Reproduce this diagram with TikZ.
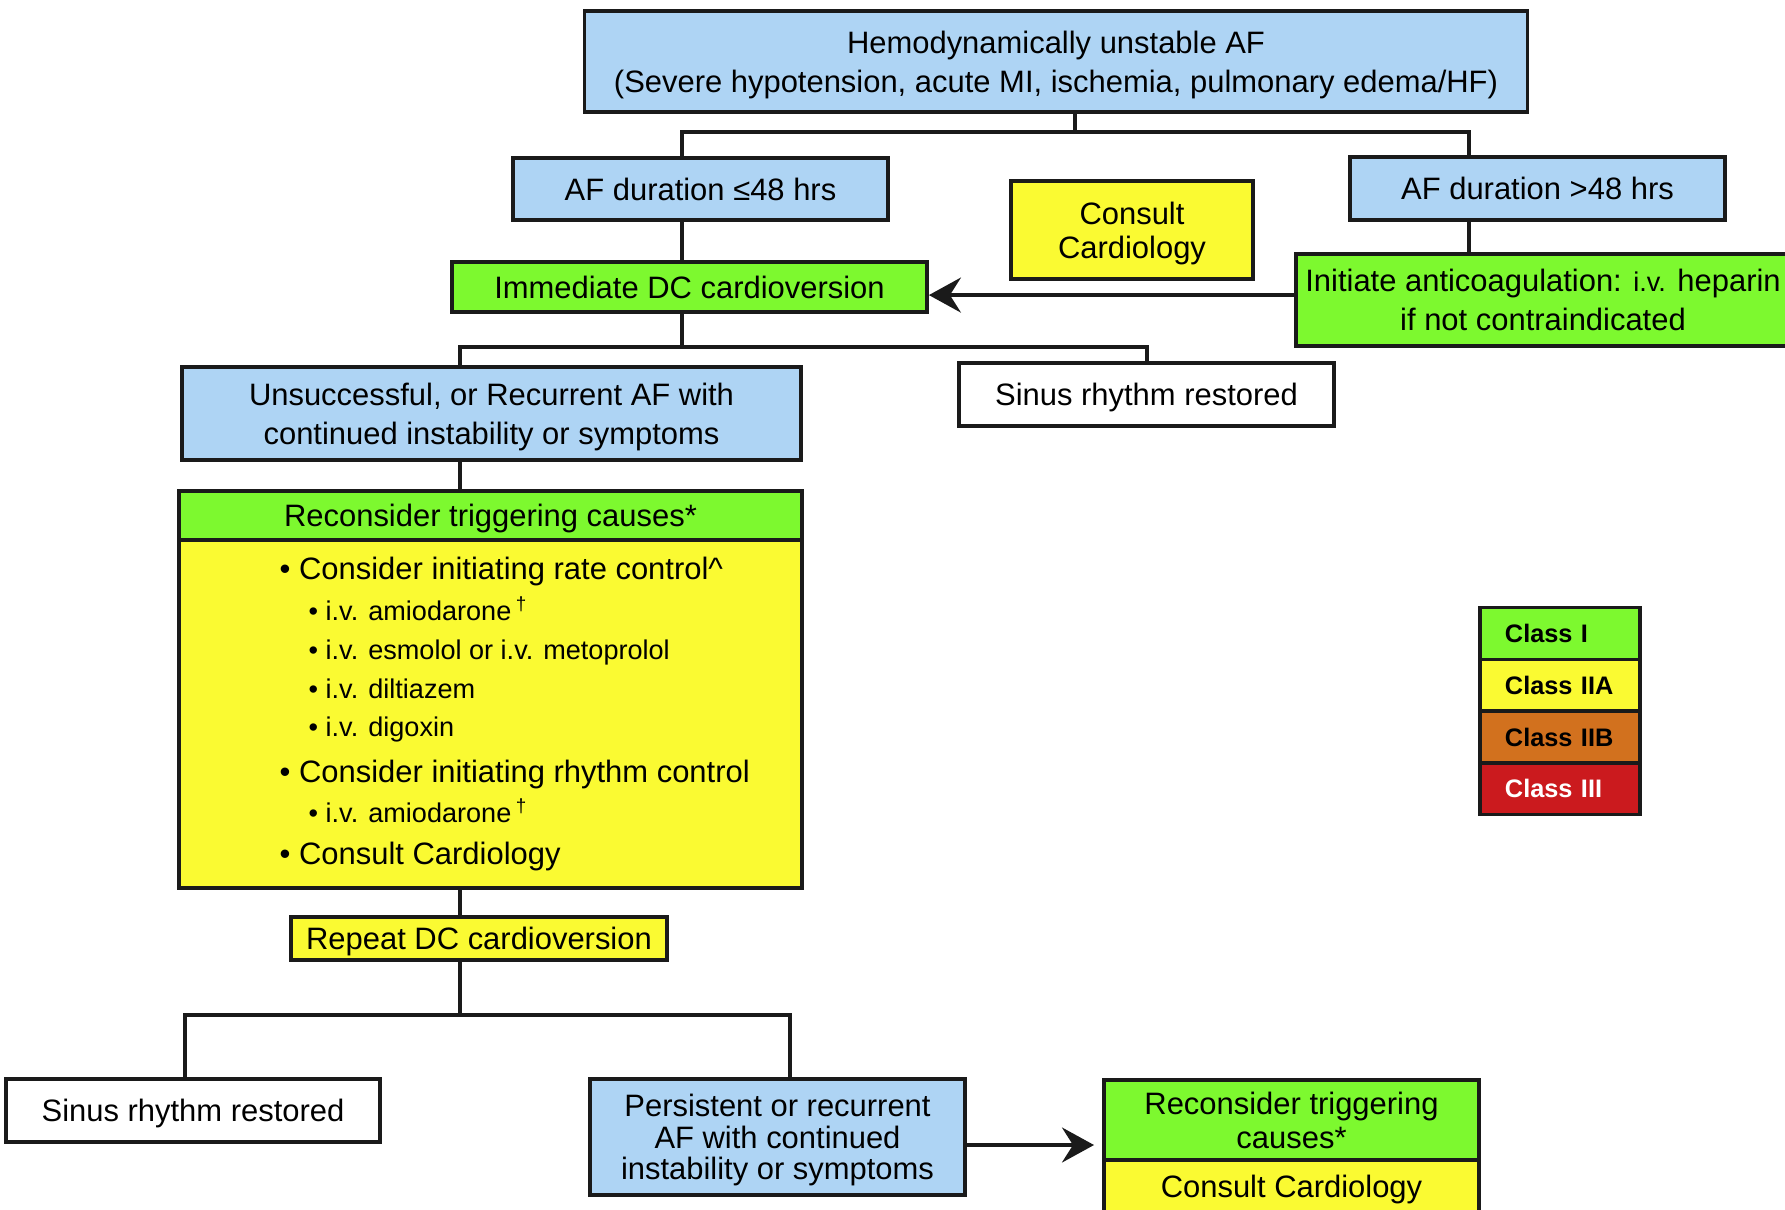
\documentclass[tikz,border=0pt]{standalone}
\usepackage{fontspec}
\setmainfont{Liberation Sans}
\usetikzlibrary{arrows.meta,positioning}
\definecolor{ink}{HTML}{1A1A1A}
\definecolor{sky}{HTML}{AED4F4}
\definecolor{good}{HTML}{7DF92F}
\definecolor{warn}{HTML}{FAFA32}
\definecolor{amber}{HTML}{D2711E}
\definecolor{alarm}{HTML}{CB1A1E}
\newcommand{\fsbig}{\fontsize{8.8}{11}\selectfont}
\newcommand{\fssmall}{\fontsize{7.7}{9}\selectfont}
\newcommand{\fsleg}{\fontsize{7.2}{8}\selectfont\bfseries}
\tikzset{card/.style={draw=ink,line width=1pt,inner sep=1pt,text depth=0pt,align=center,font=\fsbig},
  link/.style={draw=ink,line width=1pt},
  mainitem/.style={anchor=mid west,inner sep=0pt,font=\fsbig},
  subitem/.style={anchor=mid west,inner sep=0pt,font=\fssmall},
  legrow/.style={draw=ink,line width=1pt,minimum width=1.6cm,minimum height=0.5175cm,
    text width=1.1cm,inner xsep=0.25cm,inner ysep=0pt,align=left,font=\fsleg}}

\begin{document}
\begin{tikzpicture}[x=0.01cm,y=-0.01cm,>={Stealth[length=3.2mm,width=3.5mm,inset=1.1mm]}]
    \useasboundingbox (0,0) rectangle (1785,1209);
    % boxes
    \node[card,fill=sky,minimum width=9.42cm,minimum height=1.01cm] (unstable) at (1056,61.5)
      {Hemodynamically unstable AF\\(Severe hypotension, acute MI, ischemia, pulmonary edema/HF)};
    \node[card,fill=sky,minimum width=3.75cm,minimum height=0.62cm] (short) at (700.5,189) {AF duration ≤48 hrs};
    \node[card,fill=warn,minimum width=2.42cm,minimum height=0.98cm,font=\fontsize{8.8}{9.7}\selectfont] (consult) at (1132,230) {Consult\\Cardiology};
    \node[card,fill=sky,minimum width=3.75cm,minimum height=0.63cm] (long) at (1537.5,188.5) {AF duration >48 hrs};
    \node[card,fill=good,minimum width=4.94cm,minimum height=0.92cm] (hep) at (1543,300)
      {Initiate anticoagulation: {\fssmall i.v.} heparin\\if not contraindicated};
    \node[card,fill=good,minimum width=4.75cm,minimum height=0.50cm] (imm) at (689.5,287) {Immediate DC cardioversion};
    \node[card,fill=white,minimum width=3.75cm,minimum height=0.63cm] (sinus1) at (1146.5,394.5) {Sinus rhythm restored};
    \node[card,fill=sky,minimum width=6.19cm,minimum height=0.93cm] (unsucc) at (491.5,413.5)
      {Unsuccessful, or Recurrent AF with\\continued instability or symptoms};
    \node[card,fill=good,minimum width=6.23cm,minimum height=0.49cm] (rhead) at (490.5,515.5) {Reconsider triggering causes*};
    \node[card,fill=warn,minimum width=6.23cm,minimum height=3.48cm] (rbody) at (490.5,714) {};
    \node[card,fill=warn,minimum width=3.76cm,minimum height=0.43cm] (repeat) at (479,938.5) {Repeat DC cardioversion};
    \node[card,fill=white,minimum width=3.74cm,minimum height=0.63cm] (sinus2) at (193,1110.5) {Sinus rhythm restored};
    \node[card,fill=sky,minimum width=3.75cm,minimum height=1.16cm,font=\fontsize{8.8}{9}\selectfont] (persist) at (777.5,1137)
      {Persistent or recurrent\\AF with continued\\instability or symptoms};
    \node[card,fill=good,minimum width=3.75cm,minimum height=0.80cm,font=\fontsize{8.8}{9.7}\selectfont] (rehead) at (1291.5,1120)
      {Reconsider triggering\\causes*};
    \node[card,fill=warn,minimum width=3.75cm,minimum height=0.52cm] (rebody) at (1291.5,1186) {Consult Cardiology};
    % list in the yellow box
    \foreach \yy/\txt in {570/Consider initiating rate control\textasciicircum,773/Consider initiating rhythm control,855/Consult Cardiology}
      \node[mainitem] (bul\yy) at (279,\yy) {\textbullet\ \txt};
    \foreach \yy/\txt in {611/i.v. amiodarone\,\textsuperscript{\textdagger},650/i.v. esmolol or i.v. metoprolol,689/i.v. diltiazem,727/i.v. digoxin,813/i.v. amiodarone\,\textsuperscript{\textdagger}}
      \node[subitem] (sub\yy) at (308,\yy) {\textbullet\ \txt};
    % connectors
    \coordinate (j1) at (1075,132);
    \coordinate (j1l) at (682,132);
    \coordinate (j1r) at (1469,132);
    \draw[link] (unstable.south -| j1) -- (j1);
    \draw[link] (short.north -| j1l) -- (j1l) -- (j1r) -- (long.north -| j1r);
    \draw[link] (short.south -| j1l) -- (imm.north -| j1l);
    \draw[link] (long.south -| j1r) -- (hep.north -| j1r);
    \draw[link,->] ([yshift=1.4pt]hep.west) -- ([yshift=1.4pt]hep.west -| imm.east);
    \coordinate (j2) at (682,347);
    \coordinate (j2l) at (460,347);
    \coordinate (j2r) at (1147,347);
    \draw[link] (imm.south -| j2) -- (j2);
    \draw[link] (unsucc.north -| j2l) -- (j2l) -- (j2r) -- (sinus1.north -| j2r);
    \draw[link] (unsucc.south -| j2l) -- (rhead.north -| j2l);
    \draw[link] (rbody.south -| j2l) -- (repeat.north -| j2l);
    \coordinate (j3) at (460,1015);
    \coordinate (j3l) at (185,1015);
    \coordinate (j3r) at (790,1015);
    \draw[link] (repeat.south -| j3) -- (j3);
    \draw[link] (sinus2.north -| j3l) -- (j3l) -- (j3r) -- (persist.north -| j3r);
    \coordinate (r2in) at (1094,1145);
    \draw[link,->] (persist.east |- r2in) -- (r2in);
    % legend
    \foreach \i/\lab/\col/\txtcol in {0/Class I/good/black,1/Class IIA/warn/black,2/Class IIB/amber/black,3/Class III/alarm/white}
      \node[legrow,fill=\col,text=\txtcol] (cls\i) at (1560,{633.5+51.75*\i}) {\lab};
  \end{tikzpicture}
\end{document}
